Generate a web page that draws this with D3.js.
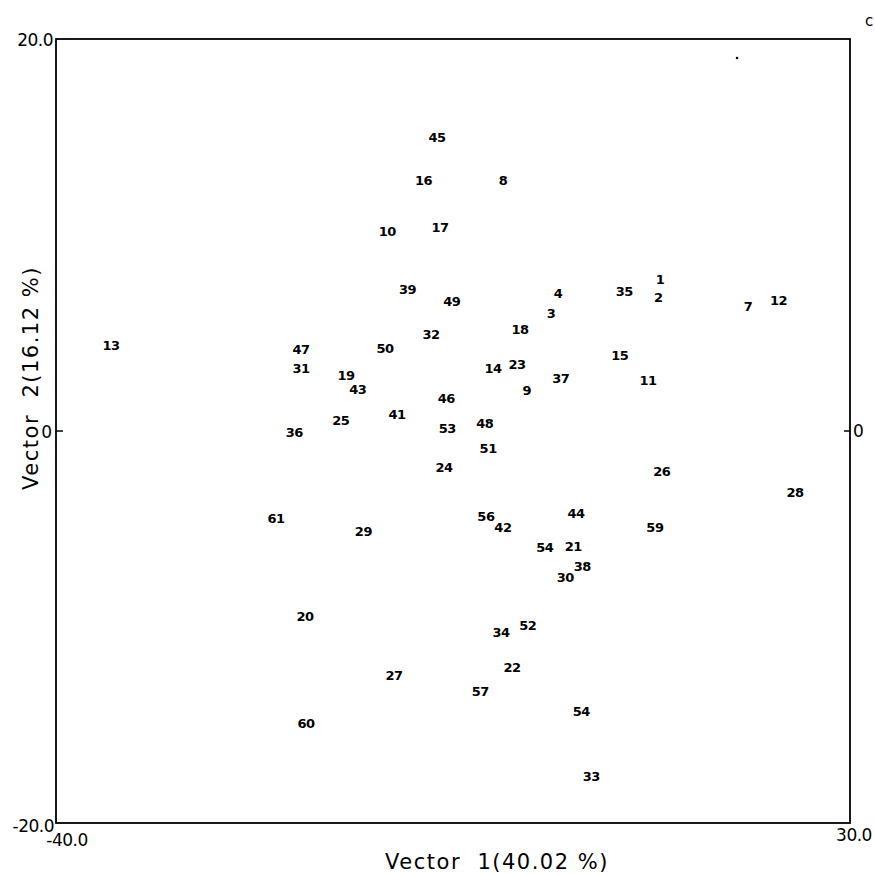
<!DOCTYPE html>
<html>
<head>
<meta charset="utf-8">
<script src="https://cdn.jsdelivr.net/npm/d3@7"></script>
<style>
  html, body { margin: 0; padding: 0; background: #fff; }
  svg { display: block; }
</style>
</head>
<body>
<svg id="chart" width="875" height="875"></svg>
<script>
// ---- data ----
const labels = ["45","16","8","10","17","39","49","4","3","35","1","2","7","12","13","18","32","50","47","31","15","14","23","19","43","37","11","9","46","41","25","36","53","48","51","24","26","28","61","44","56","42","59","29","54","21","38","30","20","52","34","22","27","57","54","60","33"];
const xValues = [-6.4,-7.6,-0.6,-10.8,-6.15,-9.0,-5.1,4.26,3.64,10.1,13.25,13.1,21.0,23.7,-35.15,0.9,-6.94,-11.0,-18.4,-18.4,9.7,-1.47,0.64,-14.43,-13.4,4.5,12.2,1.5,-5.6,-9.94,-14.9,-19.0,-5.5,-2.2,-1.9,-5.8,13.4,25.15,-20.6,5.84,-2.1,-0.6,12.8,-12.9,3.1,5.6,6.4,4.9,-18.05,1.6,-0.77,0.2,-10.2,-2.6,6.3,-17.96,7.2];
const yValues = [15.0,12.8,12.8,10.2,10.4,7.2,6.6,7.04,6.0,7.1,7.72,6.8,6.33,6.68,4.34,5.2,4.95,4.23,4.18,3.21,3.83,3.21,3.37,2.81,2.14,2.7,2.6,2.09,1.68,0.82,0.56,-0.05,0.15,0.36,-0.87,-1.84,-2.04,-3.11,-4.44,-4.23,-4.34,-4.9,-4.9,-5.15,-5.92,-5.87,-6.89,-7.45,-9.44,-9.9,-10.3,-12.04,-12.45,-13.3,-14.3,-14.9,-17.6];
const dotX = [20.04];
const dotY = [19.03];
const xDomain = [-40, 30];
const yDomain = [-20, 20];
const xTickLabels = ["-40.0", "30.0"];
const yTickLabels = ["-20.0", "20.0"];
const zeroTickLabel = "0";
const xTitle = "Vector  1(40.02 %)";
const yTitle = "Vector  2(16.12 %)";

// ---- drawing ----
const svg = d3.select("#chart");
const mLeft = 56, mRight = 850, mTop = 39, mBottom = 823;
const x = d3.scaleLinear().domain(xDomain).range([mLeft, mRight]);
const y = d3.scaleLinear().domain(yDomain).range([mBottom, mTop]);

const font = "'DejaVu Sans', 'Liberation Sans', sans-serif";

// frame
svg.append("rect")
  .attr("x", x(xDomain[0])).attr("y", y(yDomain[1]))
  .attr("width", x(xDomain[1]) - x(xDomain[0]))
  .attr("height", y(yDomain[0]) - y(yDomain[1]))
  .attr("fill", "none").attr("stroke", "#000").attr("stroke-width", 1.8);

// zero ticks on left and right edges
svg.append("line")
  .attr("x1", x(xDomain[0])).attr("x2", x(xDomain[0]) + 7)
  .attr("y1", y(0)).attr("y2", y(0))
  .attr("stroke", "#000").attr("stroke-width", 1.5);
svg.append("line")
  .attr("x1", x(xDomain[1]) - 6).attr("x2", x(xDomain[1]))
  .attr("y1", y(0)).attr("y2", y(0))
  .attr("stroke", "#000").attr("stroke-width", 1.5);

const tickFont = 17;
// y tick labels
svg.append("text").text(yTickLabels[1])
  .attr("x", x(xDomain[0]) - 3).attr("y", y(yDomain[1]) + 7)
  .attr("text-anchor", "end").attr("font-family", font).attr("font-size", tickFont)
  .attr("letter-spacing", -0.5);
svg.append("text").text(yTickLabels[0])
  .attr("x", x(xDomain[0]) - 2).attr("y", y(yDomain[0]) + 9)
  .attr("text-anchor", "end").attr("font-family", font).attr("font-size", tickFont)
  .attr("letter-spacing", -0.5);
svg.append("text").text(zeroTickLabel)
  .attr("x", x(xDomain[0]) - 4).attr("y", y(0) + 7)
  .attr("text-anchor", "end").attr("font-family", font).attr("font-size", tickFont);
svg.append("text").text(zeroTickLabel)
  .attr("x", x(xDomain[1]) + 3).attr("y", y(0) + 6)
  .attr("text-anchor", "start").attr("font-family", font).attr("font-size", tickFont);

// x tick labels
svg.append("text").text(xTickLabels[0])
  .attr("x", x(xDomain[0]) + 11).attr("y", y(yDomain[0]) + 23)
  .attr("text-anchor", "middle").attr("font-family", font).attr("font-size", tickFont)
  .attr("letter-spacing", -0.5);
svg.append("text").text(xTickLabels[1])
  .attr("x", x(xDomain[1]) + 4).attr("y", y(yDomain[0]) + 18)
  .attr("text-anchor", "middle").attr("font-family", font).attr("font-size", tickFont)
  .attr("letter-spacing", -0.5);

// titles
svg.append("text").text(xTitle)
  .attr("x", 497).attr("y", 869)
  .attr("text-anchor", "middle").attr("font-family", font).attr("font-size", 21)
  .attr("letter-spacing", 1.5).style("white-space", "pre");
svg.append("text").text(yTitle)
  .attr("transform", "translate(38," + 378 + ") rotate(-90)")
  .attr("text-anchor", "middle").attr("font-family", font).attr("font-size", 21)
  .attr("letter-spacing", 1.5).style("white-space", "pre");

// point labels
const pts = labels.map((l, i) => ({ label: l, x: xValues[i], y: yValues[i] }));
svg.append("g").selectAll("text").data(pts).join("text")
  .text(d => d.label)
  .attr("x", d => x(d.x)).attr("y", d => y(d.y))
  .attr("dy", "0.35em")
  .attr("text-anchor", "middle")
  .attr("font-family", font)
  .attr("font-size", 13)
  .attr("font-weight", "bold")
  .attr("letter-spacing", -0.5);

// stray dot
svg.append("g").selectAll("circle").data(dotX.map((v, i) => ({ x: v, y: dotY[i] })))
  .join("circle")
  .attr("cx", d => x(d.x)).attr("cy", d => y(d.y)).attr("r", 1.3).attr("fill", "#000");

// clipped mark at top right corner
svg.append("text").text("c")
  .attr("x", 865).attr("y", 26)
  .attr("font-family", font).attr("font-size", 15);
</script>
</body>
</html>
